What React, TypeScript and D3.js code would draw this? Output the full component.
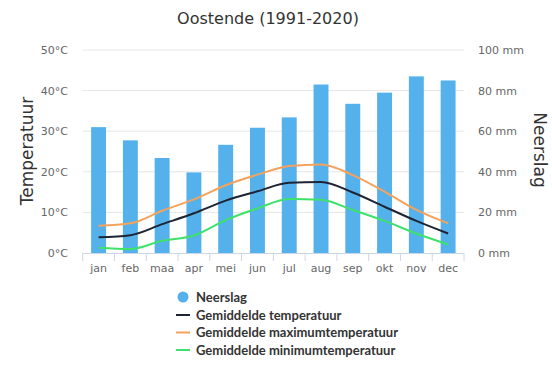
import React from "react";
import * as d3 from "d3";

const months = ["jan", "feb", "maa", "apr", "mei", "jun", "jul", "aug", "sep", "okt", "nov", "dec"];
const neerslag = [62, 55.5, 46.8, 39.7, 53.3, 61.7, 66.8, 83.0, 73.5, 79.0, 87.0, 85.0];
const gemTemp = [3.9, 4.4, 7.1, 9.8, 12.9, 15.2, 17.3, 17.5, 14.9, 11.4, 7.9, 4.8];
const maxTemp = [6.7, 7.3, 10.4, 13.2, 16.7, 19.3, 21.4, 21.8, 19.2, 15.1, 10.6, 7.3];
const minTemp = [1.3, 1.0, 3.0, 4.3, 8.1, 11.0, 13.3, 13.1, 10.6, 7.9, 4.8, 2.1];
const tempTicks = [0, 10, 20, 30, 40, 50];
const mmTicks = [0, 20, 40, 60, 80, 100];

const W = 552, H = 378;
const L = 82.7, R = 464, T = 50, B = 253;

export default function App() {
  const x = d3.scaleBand<string>().domain(months).range([L, R]).paddingInner(0.53).paddingOuter(0.265);
  const xb = d3.scaleBand<string>().domain(months).range([L, R]);
  const yT = d3.scaleLinear().domain([0, 50]).range([B, T]);
  const yP = d3.scaleLinear().domain([0, 100]).range([B, T]);
  const line = (vals: number[]) =>
    d3.line<number>()
      .x((_, i) => (xb(months[i]) as number) + xb.bandwidth() / 2)
      .y((v) => yT(v))
      .curve(d3.curveMonotoneX)(vals) as string;
  const font = "'Lucida Grande', 'DejaVu Sans', 'Open Sans', sans-serif";
  const series = [
    { name: "Gemiddelde temperatuur", color: "#1e2433", vals: gemTemp },
    { name: "Gemiddelde maximumtemperatuur", color: "#f5a25d", vals: maxTemp },
    { name: "Gemiddelde minimumtemperatuur", color: "#3ee169", vals: minTemp },
  ];
  const bounds = [...months.map((m) => xb(m) as number), R];
  return (
    <svg width={W} height={H} style={{ position: "absolute", left: 0, top: 0, background: "#fff" }} fontFamily={font}>
      <text x={268} y={24} textAnchor="middle" fontSize={16} fill="#333">Oostende (1991-2020)</text>
      {tempTicks.map((t) => (
        <g key={t}>
          {t > 0 && <line x1={L} x2={R} y1={yT(t)} y2={yT(t)} stroke="#e6e6e6" strokeWidth={1} />}
          <text x={68} y={yT(t) + 4} textAnchor="end" fontSize={11} fill="#666">{t}°C</text>
        </g>
      ))}
      {mmTicks.map((t) => (
        <text key={t} x={478} y={yP(t) + 4} textAnchor="start" fontSize={11} fill="#666">{t} mm</text>
      ))}
      <text transform={`translate(33,151) rotate(-90)`} textAnchor="middle" fontSize={17} fill="#333">Temperatuur</text>
      <text transform={`translate(534,150) rotate(90)`} textAnchor="middle" fontSize={17} fill="#333">Neerslag</text>
      {months.map((m, i) => (
        <rect key={m} x={x(m)} y={yP(neerslag[i])} width={x.bandwidth()} height={B - yP(neerslag[i])} fill="#55b1eb" />
      ))}
      {series.map((s) => (
        <path key={s.name} d={line(s.vals)} fill="none" stroke={s.color} strokeWidth={2} />
      ))}
      <line x1={L} x2={R} y1={B + 0.5} y2={B + 0.5} stroke="#ccd6eb" />
      {bounds.map((b, i) => (
        <line key={i} x1={b} x2={b} y1={B} y2={B + 8} stroke="#ccd6eb" />
      ))}
      {months.map((m) => (
        <text key={m} x={(xb(m) as number) + xb.bandwidth() / 2} y={272} textAnchor="middle" fontSize={11} fill="#666">{m}</text>
      ))}
      <g fontSize={13} fontWeight="bold" fill="#333" fontFamily="Lato, 'Open Sans', sans-serif">
        <circle cx={183} cy={297} r={5.5} fill="#55b1eb" />
        <text x={196} y={301.5}>Neerslag</text>
        {series.map((s, i) => (
          <g key={s.name}>
            <line x1={176} x2={190} y1={315 + i * 17.5} y2={315 + i * 17.5} stroke={s.color} strokeWidth={2} />
            <text x={196} y={319.5 + i * 17.5}>{s.name}</text>
          </g>
        ))}
      </g>
    </svg>
  );
}
